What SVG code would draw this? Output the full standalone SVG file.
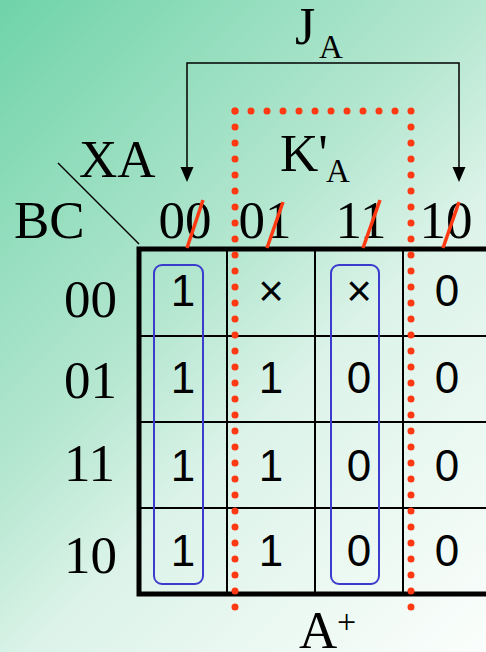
<svg xmlns="http://www.w3.org/2000/svg" width="486" height="652" viewBox="0 0 486 652">
  <defs>
    <linearGradient id="bg" gradientUnits="userSpaceOnUse" x1="0" y1="0" x2="569" y2="569">
      <stop offset="0" stop-color="#6fd3a8"/>
      <stop offset="0.43" stop-color="#b6e7d1"/>
      <stop offset="0.6" stop-color="#dcf3e9"/>
      <stop offset="1" stop-color="#fbfefc"/>
    </linearGradient>
    <style>
      .serif { font-family: "Liberation Serif", "Times New Roman", serif; fill: #000; }
      .big { font-size: 53px; }
      .sub { font-size: 33px; }
      .cell { font-family: "Liberation Sans", Arial, sans-serif; font-size: 44px; fill: #000; text-anchor: middle; }
      .thick { stroke: #000; stroke-width: 5; fill: none; }
      .thin { stroke: #000; stroke-width: 2; fill: none; }
      .dots { stroke: #ff3a12; stroke-width: 7; stroke-linecap: round; stroke-dasharray: 0 16; fill: none; }
      .slash { stroke: #ff3a12; stroke-width: 3.5; fill: none; }
      .group { stroke: #3b3bcc; stroke-width: 2; fill: none; }
      .conn { stroke: #000; stroke-width: 1.5; fill: none; }
    </style>
  </defs>

  <rect width="486" height="652" fill="url(#bg)"/>

  <!-- corner labels -->
  <g id="corner">
    <line x1="58" y1="163" x2="139" y2="244" stroke="#000" stroke-width="1.5"/>
    <text class="serif big" x="79" y="177">XA</text>
    <text class="serif big" x="14" y="238">BC</text>
  </g>

  <!-- column headers -->
  <g id="col-headers" class="serif big" text-anchor="middle">
    <text x="185" y="238">00</text>
    <text x="265" y="238">01</text>
    <text x="361" y="238">11</text>
    <text x="446" y="238">10</text>
  </g>

  <!-- row headers -->
  <g id="row-headers" class="serif big">
    <text x="64" y="317">00</text>
    <text x="64" y="398">01</text>
    <text x="64" y="481">11</text>
    <text x="64" y="573">10</text>
  </g>

  <!-- map grid -->
  <g id="grid">
    <line class="thin" x1="227" y1="249" x2="227" y2="594"/>
    <line class="thin" x1="315" y1="249" x2="315" y2="594"/>
    <line class="thin" x1="403" y1="249" x2="403" y2="594"/>
    <line class="thin" x1="139" y1="336" x2="486" y2="336"/>
    <line class="thin" x1="139" y1="422" x2="486" y2="422"/>
    <line class="thin" x1="139" y1="508" x2="486" y2="508"/>
    <path class="thick" d="M486,249 H139 V594 H486"/>
  </g>

  <!-- cell values -->
  <g id="cells" class="cell">
    <text x="183" y="306">1</text>
    <text x="271" y="306">×</text>
    <text x="359" y="306">×</text>
    <text x="447" y="306">0</text>
    <text x="183" y="393">1</text>
    <text x="271" y="393">1</text>
    <text x="359" y="393">0</text>
    <text x="447" y="393">0</text>
    <text x="183" y="481">1</text>
    <text x="271" y="481">1</text>
    <text x="359" y="481">0</text>
    <text x="447" y="481">0</text>
    <text x="183" y="566">1</text>
    <text x="271" y="566">1</text>
    <text x="359" y="566">0</text>
    <text x="447" y="566">0</text>
  </g>

  <!-- groupings -->
  <g id="group-ja-left">
    <rect class="group" x="154" y="265" width="49" height="319" rx="8"/>
  </g>
  <g id="group-ka">
    <rect class="group" x="331" y="265" width="48" height="319" rx="8"/>
  </g>

  <!-- K'A dotted loop -->
  <g id="loop-ka">
    <path class="dots" d="M235,111 V608"/>
    <path class="dots" d="M235,111 H411"/>
    <path class="dots" d="M411,111 V623"/>
    <text class="serif big" x="280" y="171">K'</text>
    <text class="serif sub" x="326" y="182">A</text>
  </g>

  <!-- crossed-out header bits -->
  <g id="slashes" class="slash">
    <line x1="187" y1="248" x2="203" y2="200"/>
    <line x1="267" y1="248" x2="283" y2="202"/>
    <line x1="363" y1="248" x2="380" y2="200"/>
    <line x1="443" y1="248" x2="459" y2="202"/>
  </g>

  <!-- JA connector -->
  <g id="connectors">
    <path class="conn" d="M187,168 V63 H459 V168"/>
    <path d="M180.5,167 L193.5,167 L187,182 Z" fill="#000"/>
    <path d="M452.5,167 L465.5,167 L459,182 Z" fill="#000"/>
  </g>
  <g id="label-ja">
    <text class="serif" font-size="52" x="295" y="44">J</text>
    <text class="serif sub" x="319" y="58">A</text>
  </g>

  <!-- output label -->
  <g id="label-out">
    <text class="serif big" x="299" y="648">A</text>
    <text class="serif" font-size="34" x="337" y="633">+</text>
  </g>
</svg>
